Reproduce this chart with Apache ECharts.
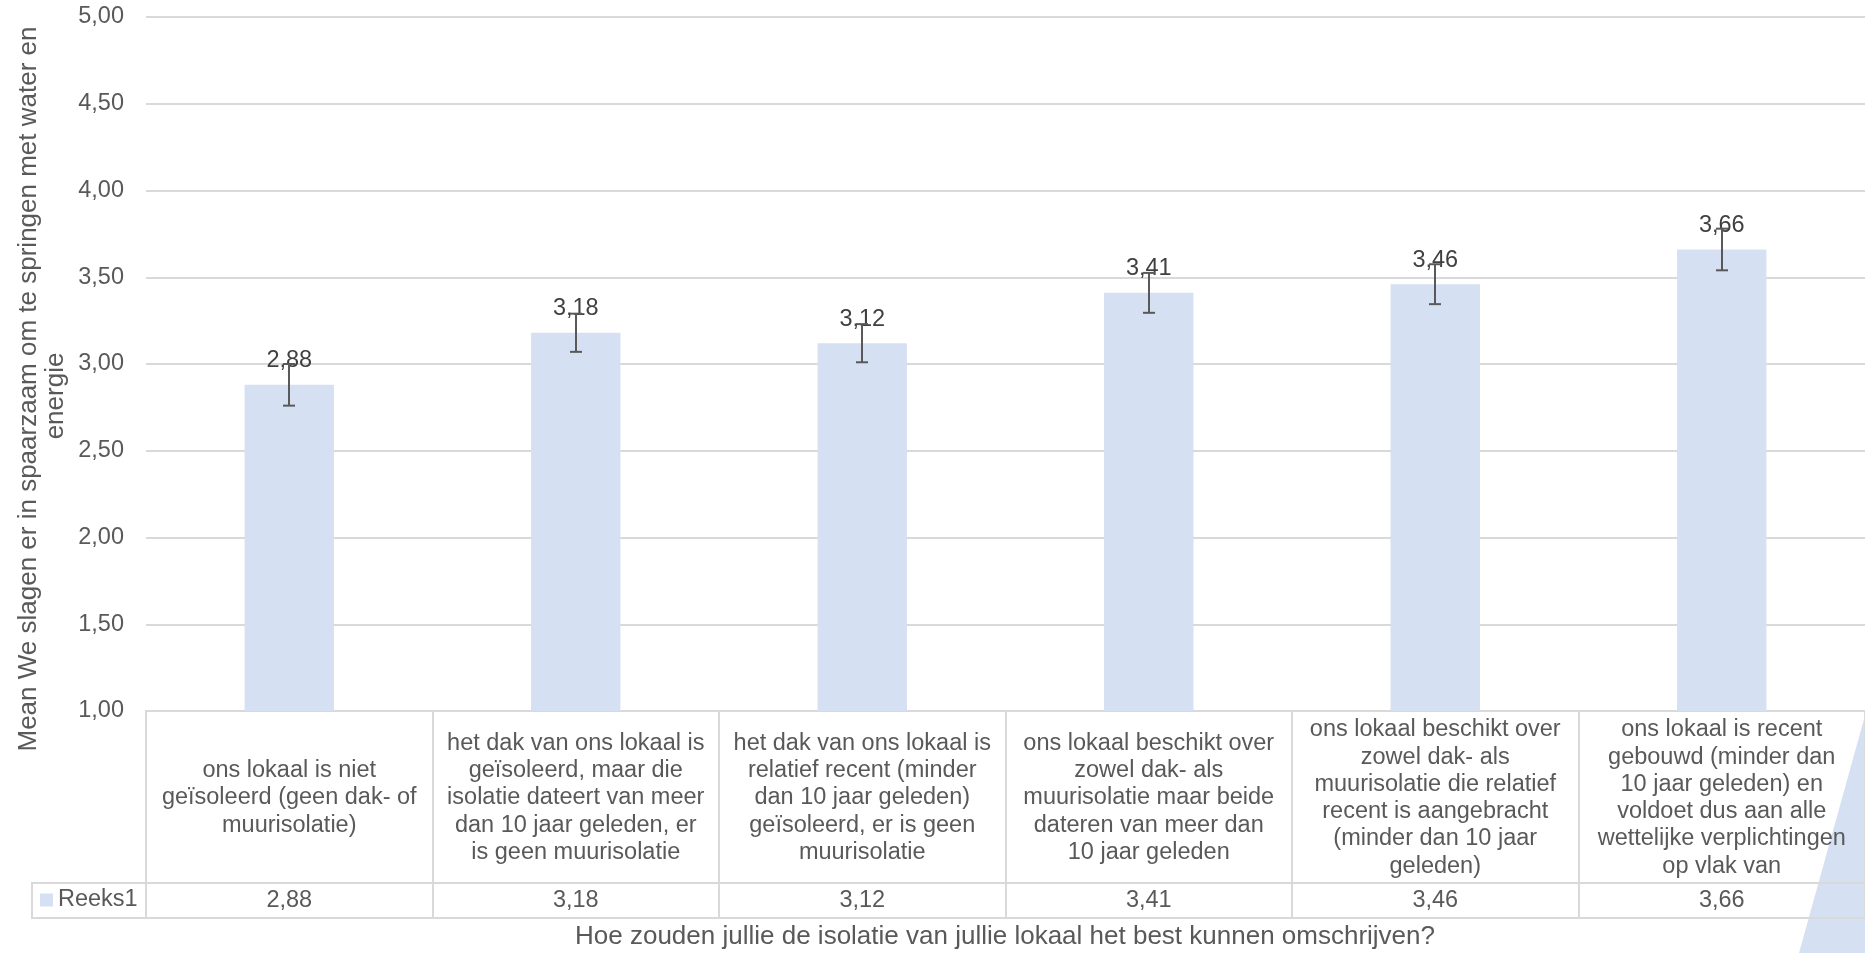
<!DOCTYPE html>
<html>
<head>
<meta charset="utf-8">
<script src="https://cdn.jsdelivr.net/npm/echarts@6/dist/echarts.min.js"></script>
<style>
html,body{margin:0;padding:0;background:#ffffff;}
#chart{width:1865px;height:953px;}
</style>
</head>
<body>
<div id="chart"></div>
<script>
// ---- data ----
const categories = [
  "ons lokaal is niet\ngeïsoleerd (geen dak- of\nmuurisolatie)",
  "het dak van ons lokaal is\ngeïsoleerd, maar die\nisolatie dateert van meer\ndan 10 jaar geleden, er\nis geen muurisolatie",
  "het dak van ons lokaal is\nrelatief recent (minder\ndan 10 jaar geleden)\ngeïsoleerd, er is geen\nmuurisolatie",
  "ons lokaal beschikt over\nzowel dak- als\nmuurisolatie maar beide\ndateren van meer dan\n10 jaar geleden",
  "ons lokaal beschikt over\nzowel dak- als\nmuurisolatie die relatief\nrecent is aangebracht\n(minder dan 10 jaar\ngeleden)",
  "ons lokaal is recent\ngebouwd (minder dan\n10 jaar geleden) en\nvoldoet dus aan alle\nwettelijke verplichtingen\nop vlak van"
];
const means = [2.88, 3.18, 3.12, 3.41, 3.46, 3.66];
const errors = [0.12, 0.11, 0.11, 0.115, 0.115, 0.12];
const seriesName = "Reeks1";
const yMin = 1, yMax = 5, yStep = 0.5;
const yTitleLines = ["Mean We slagen er in spaarzaam om te springen met water en", "energie"];
const xTitle = "Hoe zouden jullie de isolatie van jullie lokaal het best kunnen omschrijven?";

// ---- layout ----
const FONT = "'Liberation Sans', Arial, sans-serif";
const TXT = "#595959";
const GRIDC = "#D9D9D9";
const BAR = "#D6E0F3";
const PL = 146, PW = 1732, PT = 17, PB = 711;   // plot area
const TB = 918, ROWSPLIT = 883;                 // table
const fmt = v => v.toFixed(2).replace('.', ',');

const chart = echarts.init(document.getElementById('chart'));
const errData = means.map((m, i) => [i, m - errors[i], m + errors[i]]);

chart.setOption({
  backgroundColor: '#ffffff',
  animation: false,
  textStyle: { fontFamily: FONT },
  legend: {
    show: true, left: 40, top: ROWSPLIT + 5, padding: 0,
    itemWidth: 13, itemHeight: 13, icon: 'rect',
    data: [seriesName],
    textStyle: { color: TXT, fontSize: 23.5, fontFamily: FONT, padding: [0,0,0,0] }
  },
  grid: [
    { left: PL, top: PT, width: PW, height: PB - PT },
    { left: PL, top: PB, width: PW, height: TB - PB, show: true, borderColor: GRIDC, borderWidth: 2, backgroundColor: 'transparent' }
  ],
  xAxis: [
    {
      gridIndex: 0, type: 'category', data: categories,
      axisLine: { show: true, lineStyle: { color: GRIDC, width: 2 } },
      axisTick: { show: false },
      axisLabel: {
        interval: 0, margin: 87, verticalAlign: 'middle', align: 'center',
        color: TXT, fontSize: 23.5, lineHeight: 27.3, fontFamily: FONT
      }
    },
    {
      gridIndex: 1, type: 'category', data: categories,
      axisLine: { show: false }, axisTick: { show: false },
      splitLine: { show: true, interval: 0, lineStyle: { color: GRIDC, width: 2 } },
      axisLabel: {
        inside: true, interval: 0, margin: (TB - ROWSPLIT) / 2, verticalAlign: 'middle',
        color: TXT, fontSize: 23.5, fontFamily: FONT,
        formatter: (v, i) => fmt(means[i])
      }
    }
  ],
  yAxis: [
    {
      gridIndex: 0, type: 'value', min: yMin, max: yMax, interval: yStep,
      axisLine: { show: false }, axisTick: { show: false },
      splitLine: { show: true, lineStyle: { color: GRIDC, width: 2 } },
      axisLabel: { margin: 22, color: TXT, fontSize: 23.5, fontFamily: FONT, formatter: v => fmt(v) }
    },
    { gridIndex: 1, type: 'value', min: 0, max: 1, show: false }
  ],
  series: [
    {
      name: seriesName, type: 'bar', xAxisIndex: 0, yAxisIndex: 0,
      data: means, barWidth: '31.2%',
      itemStyle: { color: BAR },
      label: {
        show: true, position: 'top', distance: 12,
        color: '#404040', fontSize: 23.5, fontFamily: FONT,
        formatter: p => fmt(p.value)
      },
      z: 2
    },
    {
      name: 'err', type: 'custom', xAxisIndex: 0, yAxisIndex: 0,
      data: errData, z: 5, silent: true,
      renderItem: (params, api) => {
        const lo = api.coord([api.value(0), api.value(1)]);
        const hi = api.coord([api.value(0), api.value(2)]);
        const x = Math.round(lo[0]);
        const cap = 6;
        const st = { stroke: '#595959', lineWidth: 2 };
        return { type: 'group', children: [
          { type: 'line', shape: { x1: x, y1: lo[1], x2: x, y2: hi[1] }, style: st },
          { type: 'line', shape: { x1: x - cap, y1: lo[1], x2: x + cap, y2: lo[1] }, style: st },
          { type: 'line', shape: { x1: x - cap, y1: hi[1], x2: x + cap, y2: hi[1] }, style: st }
        ]};
      }
    }
  ],
  graphic: [
    { type: 'polygon', z: -10, silent: true,
      shape: { points: [[1866, 712], [1866, 953], [1799, 953]] },
      style: { fill: '#D6E0F3' } },
    { type: 'line', z: 10, silent: true,
      shape: { x1: 32, y1: ROWSPLIT, x2: PL + PW, y2: ROWSPLIT },
      style: { stroke: GRIDC, lineWidth: 2 } },
    { type: 'rect', z: 10, silent: true,
      shape: { x: 32, y: ROWSPLIT, width: PL - 32, height: TB - ROWSPLIT },
      style: { fill: 'none', stroke: GRIDC, lineWidth: 2 } },
    { type: 'text', silent: true, x: 29, y: 389, rotation: Math.PI / 2,
      style: { text: yTitleLines[0], fill: TXT, font: '26px ' + FONT, align: 'center', verticalAlign: 'middle' } },
    { type: 'text', silent: true, x: 56, y: 396, rotation: Math.PI / 2,
      style: { text: yTitleLines[1], fill: TXT, font: '26px ' + FONT, align: 'center', verticalAlign: 'middle' } },
    { type: 'text', silent: true, x: 1005, y: 937,
      style: { text: xTitle, fill: TXT, font: '26px ' + FONT, align: 'center', verticalAlign: 'middle' } }
  ]
});
</script>
</body>
</html>
